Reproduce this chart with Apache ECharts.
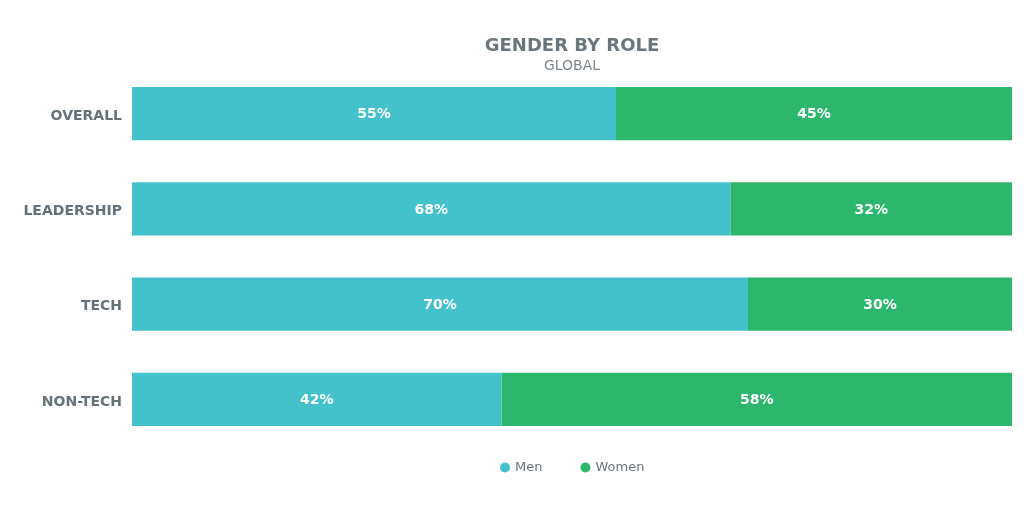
<!DOCTYPE html>
<html><head><meta charset="utf-8">
<script src="https://cdn.jsdelivr.net/npm/echarts@6/dist/echarts.min.js"></script>
<style>html,body{margin:0;padding:0;background:#fff}#c{width:1024px;height:512px}</style>
</head><body><div id="c"></div>
<script>
const categories = ['OVERALL', 'LEADERSHIP', 'TECH', 'NON-TECH'];
const men = [55, 68, 70, 42];
const women = [45, 32, 30, 58];
const seriesNames = ['Men', 'Women'];

const chart = echarts.init(document.getElementById('c'));
const font = 'DejaVu Sans';
chart.setOption({
  animation: false,
  title: {
    text: 'GENDER BY ROLE', subtext: 'GLOBAL', left: 567, textAlign: 'center', top: 32,
    itemGap: 4,
    textStyle: { fontFamily: font, fontSize: 18, fontWeight: 'bold', color: '#6b767c' },
    subtextStyle: { fontFamily: font, fontSize: 14, color: '#7d878c' }
  },
  legend: {
    data: seriesNames, left: 495, bottom: 33, icon: 'circle',
    itemWidth: 10, itemHeight: 10, itemGap: 38,
    textStyle: { fontFamily: font, fontSize: 13, color: '#6b767c' }
  },
  grid: { left: 132, right: 12, top: 66, bottom: 65, containLabel: false },
  xAxis: { type: 'value', min: 0, max: 100, show: false },
  yAxis: {
    type: 'category', data: categories, inverse: true,
    axisLine: { show: false }, axisTick: { show: false },
    axisLabel: {
      margin: 10, formatter: '{a|{value}}',
      rich: { a: { fontFamily: font, fontSize: 14, fontWeight: 'bold', color: '#66727a', padding: [5, 0, 0, 0] } }
    }
  },
  series: [
    { name: seriesNames[0], type: 'bar', stack: 's', data: men, barWidth: '56%',
      itemStyle: { color: '#44c2cb' },
      label: { show: true, formatter: '{c}%', color: '#fff', fontFamily: font, fontSize: 14, fontWeight: 'bold', offset: [0, 1] } },
    { name: seriesNames[1], type: 'bar', stack: 's', data: women, barWidth: '56%',
      itemStyle: { color: '#2db76c' },
      label: { show: true, formatter: '{c}%', color: '#fff', fontFamily: font, fontSize: 14, fontWeight: 'bold', offset: [0, 1] } }
  ]
});
</script></body></html>
